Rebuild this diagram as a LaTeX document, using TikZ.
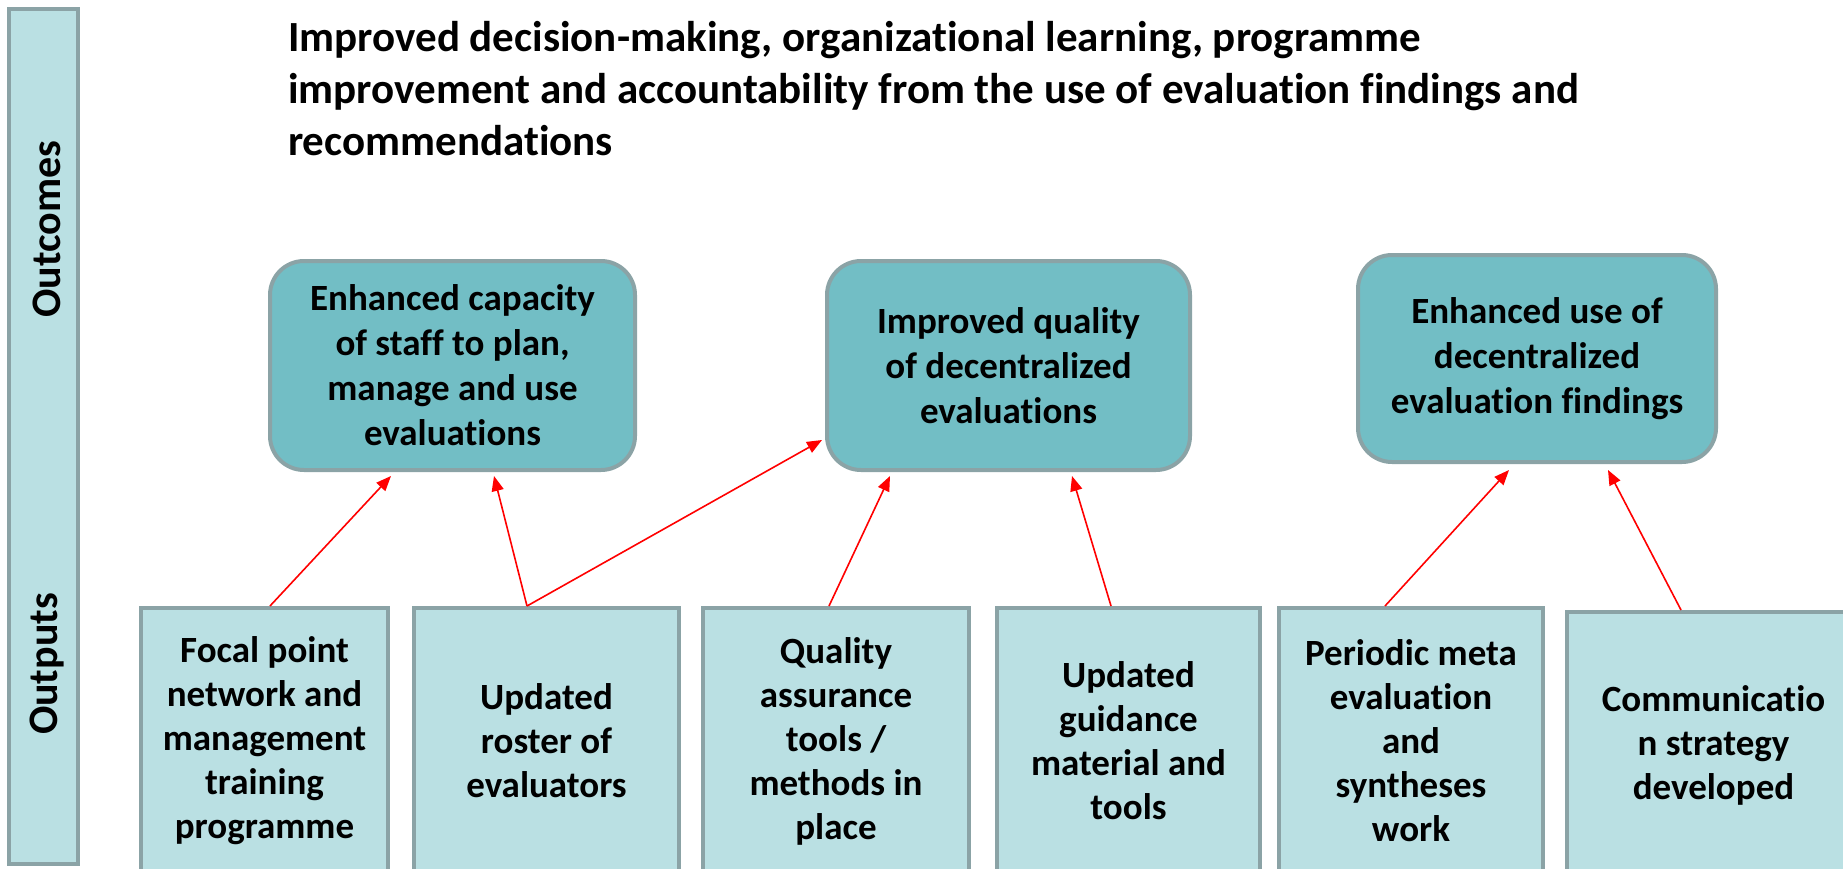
\documentclass[tikz,border=0pt]{standalone}
\usepackage{fontspec}
\setmainfont{Carlito}[Ligatures={NoCommon}]
\usetikzlibrary{arrows.meta,calc}
\definecolor{tealbox}{HTML}{72BEC5}
\definecolor{lightbox}{HTML}{BAE0E3}
\definecolor{edgegray}{HTML}{8BA3A6}
\definecolor{arrred}{HTML}{FF0000}
\tikzset{
  outcomebox/.style={draw=edgegray, fill=tealbox, line width=4pt, rounded corners=34pt,
    align=center, inner sep=0pt, font=\fontsize{37}{45}\selectfont\bfseries},
  outputbox/.style={draw=edgegray, fill=lightbox, line width=4pt,
    align=center, inner sep=0pt, minimum height=266pt, font=\fontsize{37}{44}\selectfont\bfseries},
  stripbox/.style={draw=edgegray, fill=lightbox, line width=4pt, inner sep=0pt},
  striplabel/.style={rotate=90, font=\fontsize{42}{48}\selectfont\bfseries},
  arr/.style={draw=arrred, line width=1.6pt, -{Triangle[length=15pt,width=12pt]}}
}
\begin{document}
\begin{tikzpicture}[x=1pt,y=-1pt]
\useasboundingbox (0,0) rectangle (1843,869);
\clip (0,0) rectangle (1843,869);

% left strip
\node[stripbox, minimum width=69pt, minimum height=855pt] (strip) at (43.5,436.5) {};
\node[striplabel] (oc) at (47,229) {Outcomes};
\node[striplabel] (op) at (47,664) {Outputs};

% title
\node[anchor=north west, align=left, inner sep=0pt, font=\fontsize{43}{52}\selectfont\bfseries] (title) at (288,21)
 {Improved decision-making, organizational learning, programme\\
  improvement and accountability from the use of evaluation findings and\\
  recommendations};

% outcome boxes
\node[outcomebox, minimum width=365pt, minimum height=209pt] (t1) at (452.5,365.5)
 {Enhanced capacity\\of staff to plan,\\manage and use\\evaluations};
\node[outcomebox, minimum width=363pt, minimum height=209pt] (t2) at (1008.5,365.5)
 {Improved quality\\of decentralized\\evaluations};
\node[outcomebox, minimum width=358pt, minimum height=207pt] (t3) at (1537,358.5)
 {Enhanced use of\\decentralized\\evaluation findings};

% output boxes
\node[outputbox, minimum width=247pt] (b1) at (264.5,741)
 {Focal point\\network and\\management\\training\\programme};
\node[outputbox, minimum width=265pt] (b2) at (546.5,741)
 {Updated\\roster of\\evaluators};
\node[outputbox, minimum width=266pt] (b3) at (836,741)
 {Quality\\assurance\\tools /\\methods in\\place};
\node[outputbox, minimum width=263pt] (b4) at (1128.5,741)
 {Updated\\guidance\\material and\\tools};
\node[outputbox, minimum width=264pt] (b5) at (1411,741)
 {Periodic meta\\evaluation\\and\\syntheses\\work};
\node[outputbox, minimum width=293pt, anchor=north] (b6) at (1713.5,610)
 {Communicatio\\n strategy\\developed};

% arrows
\draw[arr] ([xshift=5.5pt]b1.north) -- ([xshift=-61.5pt,yshift=-4pt]t1.south);
\draw[arr] ([xshift=-19.5pt]b2.north) -- ([xshift=41.5pt,yshift=-4pt]t1.south);
\draw[arr] ([xshift=-19.5pt]b2.north) -- ([xshift=-3pt,yshift=-74.5pt]t2.west);
\draw[arr] ([xshift=-7pt]b3.north) -- ([xshift=-118.5pt,yshift=-4pt]t2.south);
\draw[arr] ([xshift=-17.5pt]b4.north) -- ([xshift=63.5pt,yshift=-4pt]t2.south);
\draw[arr] ([xshift=-26pt]b5.north) -- ([xshift=-28pt,yshift=-6pt]t3.south);
\draw[arr] ([xshift=-32.5pt]b6.north) -- ([xshift=71pt,yshift=-6pt]t3.south);
\end{tikzpicture}
\end{document}
